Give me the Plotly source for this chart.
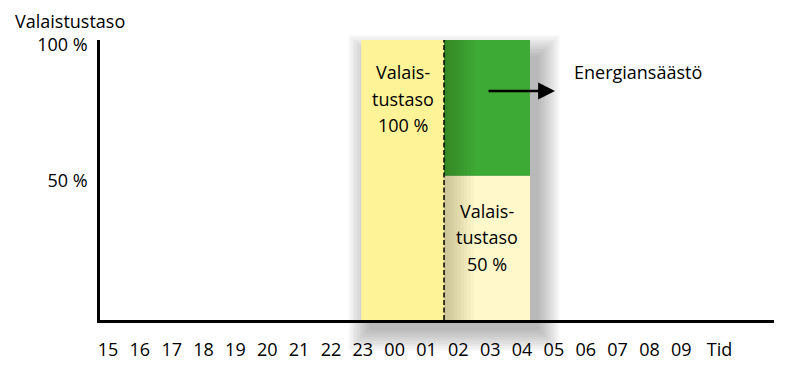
import plotly.graph_objects as go

# ---- data ----
hours = ["15", "16", "17", "18", "19", "20", "21", "22", "23", "00",
         "01", "02", "03", "04", "05", "06", "07", "08", "09"]
x_title = "Tid"
y_title = "Valaistustaso"
y_tickvals = [100, 51.5]
y_ticktext = ["100 %", "50 %"]
# times in hours after 15:00
t_on = 7.95     # ~23:00  lighting on at 100 %
t_dim = 10.55   # ~01:30  dimmed to 50 %
t_off = 13.25   # ~04:15  end
level_full = 100
level_dim = 51.5
label_full = ["Valais-", "tustaso", "100 %"]
label_dim = ["Valais-", "tustaso", "50 %"]
saving_label = "Energiansäästö"

# ---- style ----
FONT = "Open Sans"
FS = 18
YELLOW = "rgb(255,243,152)"
PALE = "rgb(255,248,202)"
GREEN = "rgb(62,170,54)"
L, R, T, B = 100, 26, 40, 69
W, H = 800, 389
PW = W - L - R
PH = H - T - B
step = 31.85  # pixels per hour
XMIN = -8 / step
XMAX = XMIN + PW / step


def dx(px):  # pixel offset -> data units
    return px / step


def py_paper(px_from_bottom):
    return px_from_bottom / PH


shapes = []
# soft drop shadow behind the lit region
n = 10
for i in range(n):
    e = i * 2.3
    shapes.append(dict(
        type="rect", xref="x", yref="paper", layer="below",
        x0=t_on + dx(8 - e), x1=t_off + dx(9 + e),
        y0=py_paper(-10 - e), y1=py_paper(PH - 16 + e),
        line=dict(width=0), fillcolor="rgba(60,60,60,0.045)"))

# lit bands
shapes.append(dict(type="rect", xref="x", yref="y", layer="below",
                   x0=t_on, x1=t_dim, y0=0, y1=level_full,
                   line=dict(width=0), fillcolor=YELLOW))
shapes.append(dict(type="rect", xref="x", yref="y", layer="below",
                   x0=t_dim, x1=t_off, y0=0, y1=level_dim,
                   line=dict(width=0), fillcolor=PALE))
shapes.append(dict(type="rect", xref="x", yref="y", layer="below",
                   x0=t_dim, x1=t_off, y0=level_dim, y1=level_full,
                   line=dict(width=0), fillcolor=GREEN))
# inner shading next to the dim step
for k in range(1, 10):
    shapes.append(dict(type="rect", xref="x", yref="y", layer="below",
                       x0=t_dim, x1=t_dim + dx(k * 3.3), y0=0, y1=level_full,
                       line=dict(width=0), fillcolor="rgba(40,30,0,0.026)"))
# dashed divider
shapes.append(dict(type="line", xref="x", yref="y", layer="below",
                   x0=t_dim, x1=t_dim, y0=0, y1=level_full,
                   line=dict(color="black", width=1.5, dash="5px,2.5px")))

ann = []
sp = 26.5 / PH * 100
for i, s in enumerate(label_full):
    ann.append(dict(x=(t_on + t_dim) / 2, y=level_full - 11.5 - i * sp, xref="x", yref="y",
                    text=s, showarrow=False, font=dict(family=FONT, size=FS, color="black")))
for i, s in enumerate(label_dim):
    ann.append(dict(x=(t_dim + t_off) / 2, y=level_dim - 12.5 - i * sp, xref="x", yref="y",
                    text=s, showarrow=False, font=dict(family=FONT, size=FS, color="black")))
# arrow and saving label
arrow_y = level_full - 18.2
ann.append(dict(x=t_off + dx(25), y=arrow_y, ax=t_dim + dx(43), ay=arrow_y,
                xref="x", yref="y", axref="x", ayref="y", text="",
                showarrow=True, arrowhead=2, arrowsize=1.35, arrowwidth=2.5,
                arrowcolor="black", standoff=0, startstandoff=0))
ann.append(dict(x=t_off + dx(42), y=level_full - 11.6, xref="x", yref="y",
                text=saving_label, showarrow=False, xanchor="left",
                font=dict(family=FONT, size=FS, color="black")))
# y-axis title
ann.append(dict(x=-30 / PW, y=1 + 19 / PH, xref="paper", yref="paper",
                text=y_title, showarrow=False, xanchor="center", yanchor="middle",
                font=dict(family=FONT, size=FS, color="black")))

fig = go.Figure()
fig.add_trace(go.Scatter(x=[None], y=[None], showlegend=False, hoverinfo="skip"))
fig.update_layout(
    width=W, height=H, margin=dict(l=L, r=R, t=T, b=B),
    paper_bgcolor="white", plot_bgcolor="white",
    showlegend=False, shapes=shapes, annotations=ann,
    font=dict(family=FONT, size=FS, color="black"),
    xaxis=dict(range=[XMIN, XMAX], showgrid=False, zeroline=False,
               showline=True, linecolor="black", linewidth=2.5,
               tickvals=list(range(len(hours))) + [len(hours) + 0.2],
               ticktext=hours + [x_title], ticks="", ticklabelstandoff=12,
               tickfont=dict(family=FONT, size=FS, color="black"), fixedrange=True),
    yaxis=dict(range=[0, 100], showgrid=False, zeroline=False,
               showline=True, linecolor="black", linewidth=2.5,
               tickvals=y_tickvals, ticktext=y_ticktext, ticks="",
               ticklabelstandoff=6, ticklabelshift=5,
               tickfont=dict(family=FONT, size=FS, color="black"), fixedrange=True),
)
fig.write_html("out.html")
